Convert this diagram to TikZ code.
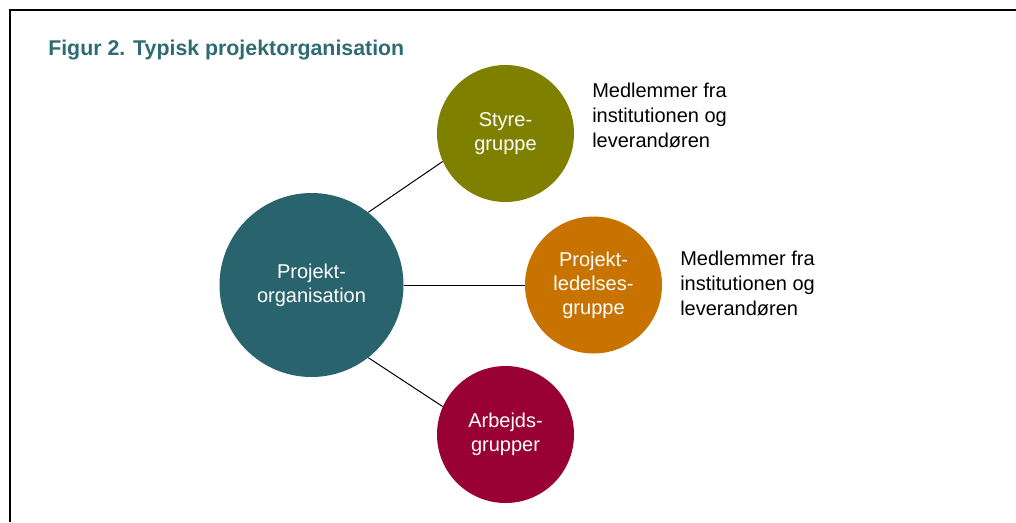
\documentclass[tikz,border=0pt]{standalone}
\usepackage{fontspec}
\setmainfont{Liberation Sans}
\definecolor{orgteal}{HTML}{29636D}
\definecolor{styreolive}{HTML}{808000}
\definecolor{ledelseorange}{HTML}{C87200}
\definecolor{arbejdred}{HTML}{990033}
\definecolor{titleteal}{HTML}{2E6B74}
\tikzset{%
    grp/.style={circle,inner sep=0pt,minimum size=102.75pt,text=white,align=center,font=\fontsize{15}{18}\selectfont}
}

\begin{document}
\begin{tikzpicture}[x=0.75pt,y=-0.75pt,
        edge/.style={line width=0.75pt},
        note/.style={anchor=base west,align=left,inner sep=0pt,font=\fontsize{15}{18.75}\selectfont}
        ]
        \useasboundingbox (0,0) rectangle (1016,522);
        \draw[line width=1.5pt] (1016,10) -- (10,10) -- (10,522);
        \node[anchor=base west,inner sep=0pt,text=titleteal,font=\fontsize{16}{19}\selectfont\bfseries] (title) at (48,55) {Figur 2. Typisk projektorganisation};

        \node[grp, fill=orgteal, minimum size=138pt] (org) at (311.5,285) {Projekt-\\organisation};
        \node[grp, fill=styreolive] (styre) at (505.5,133.5) {Styre-\\gruppe};
        \node[grp, fill=ledelseorange] (ledelse) at (593.5,285) {Projekt-\\ledelses-\\gruppe};
        \node[grp, fill=arbejdred] (arbejd) at (505.5,434.5) {Arbejds-\\grupper};

        % base = last line
        \node[note] (styrenote) at (592,147) {Medlemmer fra\\institutionen og\\leverandøren};
        \node[note] (ledelsenote) at (680,315) {Medlemmer fra\\institutionen og\\leverandøren};

        \draw[edge] (org.52) -- (styre.204);
        \draw[edge] (org.0) -- (ledelse.180);
        \draw[edge] (org.-52) -- (arbejd.156);
    \end{tikzpicture}
\end{document}
